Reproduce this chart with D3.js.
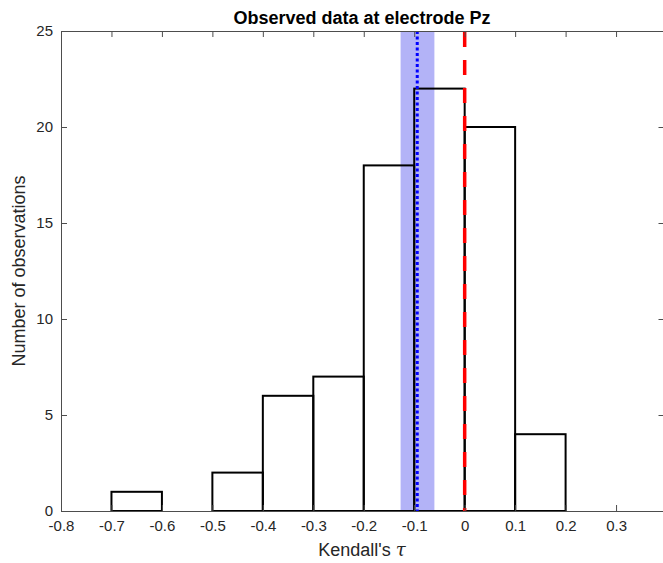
<!DOCTYPE html>
<html>
<head>
<meta charset="utf-8">
<script src="https://cdn.jsdelivr.net/npm/d3@7"></script>
<style>
  html, body { margin: 0; padding: 0; background: #fff; }
  svg { display: block; font-family: Arial, "Liberation Sans", Helvetica, sans-serif; }
</style>
</head>
<body>
<svg id="chart" width="663" height="563"></svg>
<script>
// Histogram bin edges and counts of Kendall's tau
const binStarts = [-0.7, -0.6, -0.5, -0.4, -0.3, -0.2, -0.1, 0.0, 0.1];
const binWidth = 0.1;
const counts = [1, 0, 2, 6, 7, 18, 22, 20, 4];

// Mean of observed tau with its confidence band, and the null reference
const meanTau = -0.094;
const bandLow = -0.127;
const bandHigh = -0.06;
const nullTau = 0;

const xTicks = [-0.8, -0.7, -0.6, -0.5, -0.4, -0.3, -0.2, -0.1, 0, 0.1, 0.2, 0.3];
const yTicks = [0, 5, 10, 15, 20, 25];

const svg = d3.select("#chart");
const plotLeft = 61, plotRight = 665, plotTop = 31, plotBottom = 511;

const x = d3.scaleLinear().domain([-0.8, 0.397]).range([plotLeft, plotRight]);
const y = d3.scaleLinear().domain([0, 25]).range([plotBottom, plotTop]);

// Confidence band behind everything
svg.append("rect")
  .attr("x", x(bandLow))
  .attr("y", y(25))
  .attr("width", x(bandHigh) - x(bandLow))
  .attr("height", y(0) - y(25))
  .attr("fill", "#b3b3f7");

// Histogram bars: outline only
svg.append("g")
  .selectAll("rect")
  .data(binStarts.map((s, i) => ({ s, c: counts[i] })))
  .join("rect")
  .attr("x", d => x(d.s))
  .attr("y", d => y(d.c))
  .attr("width", d => x(d.s + binWidth) - x(d.s))
  .attr("height", d => y(0) - y(d.c))
  .attr("fill", "none")
  .attr("stroke", "#000")
  .attr("stroke-width", 2);

// Mean line (dotted blue)
svg.append("line")
  .attr("x1", x(meanTau)).attr("x2", x(meanTau))
  .attr("y1", y(25)).attr("y2", y(0))
  .attr("stroke", "#0000ff")
  .attr("stroke-width", 3)
  .attr("stroke-dasharray", "3,2.5");

// Null reference line (dashed red)
svg.append("line")
  .attr("x1", x(nullTau)).attr("x2", x(nullTau))
  .attr("y1", y(25) + 1).attr("y2", y(0))
  .attr("stroke", "#ff0000")
  .attr("stroke-width", 3.5)
  .attr("stroke-dasharray", "15,13");

// Axes box with inward ticks
const axisColor = "#4d4d4d";
const tickLen = 6;

const bottomAxis = d3.axisBottom(x).tickValues(xTicks).tickSizeInner(-tickLen).tickSizeOuter(0)
  .tickFormat(d => d === 0 ? "0" : d3.format(".1f")(d).replace("−", "-"));
const topAxis = d3.axisTop(x).tickValues(xTicks).tickSizeInner(-tickLen).tickSizeOuter(0).tickFormat("");
const leftAxis = d3.axisLeft(y).tickValues(yTicks).tickSizeInner(-tickLen).tickSizeOuter(0).tickFormat(d3.format("d"));
const rightAxis = d3.axisRight(y).tickValues(yTicks).tickSizeInner(-tickLen).tickSizeOuter(0).tickFormat("");

function styleAxis(g) {
  g.select(".domain").attr("stroke", axisColor).attr("stroke-width", 1);
  g.selectAll(".tick line").attr("stroke", axisColor).attr("stroke-width", 1);
  g.selectAll(".tick text").attr("fill", "#262626").style("font-size", "15px")
    .style("font-family", "Arial, 'Liberation Sans', Helvetica, sans-serif");
}

svg.append("g").attr("transform", `translate(0,${plotBottom})`).call(bottomAxis).call(styleAxis)
  .selectAll(".tick text").attr("dy", "1.1em");
svg.append("g").attr("transform", `translate(0,${plotTop})`).call(topAxis).call(styleAxis);
svg.append("g").attr("transform", `translate(${plotLeft},0)`).call(leftAxis).call(styleAxis)
  .selectAll(".tick text").attr("x", -8);
svg.append("g").attr("transform", `translate(${plotRight - 0.5},0)`).call(rightAxis).call(styleAxis);

// Title
svg.append("text")
  .attr("x", 362)
  .attr("y", 24)
  .attr("text-anchor", "middle")
  .attr("fill", "#000")
  .style("font-size", "18px")
  .style("font-weight", "bold")
  .text("Observed data at electrode Pz");

// X axis label
const xl = svg.append("text")
  .attr("x", 362)
  .attr("y", 556)
  .attr("text-anchor", "middle")
  .attr("fill", "#262626")
  .style("font-size", "18px");
xl.append("tspan").text("Kendall's ");
xl.append("tspan").style("font-style", "italic").style("font-family", "'DejaVu Serif', serif").text("τ");

// Y axis label
svg.append("text")
  .attr("transform", `translate(25,${(plotTop + plotBottom) / 2}) rotate(-90)`)
  .attr("text-anchor", "middle")
  .attr("fill", "#262626")
  .style("font-size", "18px")
  .text("Number of observations");
</script>
</body>
</html>
